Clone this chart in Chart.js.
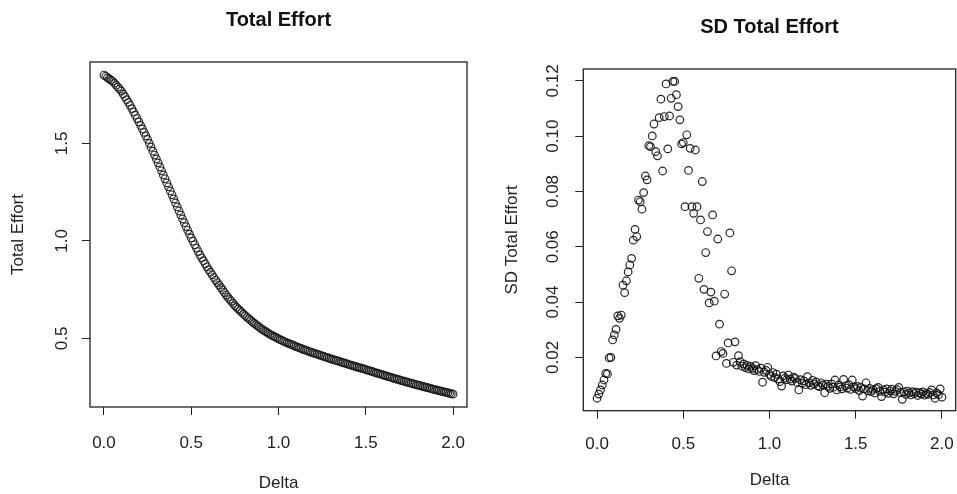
<!DOCTYPE html>
<html>
<head>
<meta charset="utf-8">
<script src="https://cdn.jsdelivr.net/npm/chart.js@4.4.1/dist/chart.umd.min.js"></script>
<style>
  body { margin: 0; background: #fff; }
  #wrap { position: relative; width: 957px; height: 494px; }
  canvas { position: absolute; top: 0; }
  #leftChart { left: 0; }
  #rightChart { left: 480px; }
</style>
</head>
<body>
<div id="wrap">
  <canvas id="leftChart" width="480" height="494"></canvas>
  <canvas id="rightChart" width="477" height="494"></canvas>
</div>
<script>
// Delta grid (x values shared by both panels)
const delta = [
  0.00,0.01,0.02,0.03,0.04,0.05,0.06,0.07,0.08,0.09,0.10,0.11,0.12,0.13,0.14,0.15,0.16,0.17,0.18,0.19,
  0.20,0.21,0.22,0.23,0.24,0.25,0.26,0.27,0.28,0.29,0.30,0.31,0.32,0.33,0.34,0.35,0.36,0.37,0.38,0.39,
  0.40,0.41,0.42,0.43,0.44,0.45,0.46,0.47,0.48,0.49,0.50,0.51,0.52,0.53,0.54,0.55,0.56,0.57,0.58,0.59,
  0.60,0.61,0.62,0.63,0.64,0.65,0.66,0.67,0.68,0.69,0.70,0.71,0.72,0.73,0.74,0.75,0.76,0.77,0.78,0.79,
  0.80,0.81,0.82,0.83,0.84,0.85,0.86,0.87,0.88,0.89,0.90,0.91,0.92,0.93,0.94,0.95,0.96,0.97,0.98,0.99,
  1.00,1.01,1.02,1.03,1.04,1.05,1.06,1.07,1.08,1.09,1.10,1.11,1.12,1.13,1.14,1.15,1.16,1.17,1.18,1.19,
  1.20,1.21,1.22,1.23,1.24,1.25,1.26,1.27,1.28,1.29,1.30,1.31,1.32,1.33,1.34,1.35,1.36,1.37,1.38,1.39,
  1.40,1.41,1.42,1.43,1.44,1.45,1.46,1.47,1.48,1.49,1.50,1.51,1.52,1.53,1.54,1.55,1.56,1.57,1.58,1.59,
  1.60,1.61,1.62,1.63,1.64,1.65,1.66,1.67,1.68,1.69,1.70,1.71,1.72,1.73,1.74,1.75,1.76,1.77,1.78,1.79,
  1.80,1.81,1.82,1.83,1.84,1.85,1.86,1.87,1.88,1.89,1.90,1.91,1.92,1.93,1.94,1.95,1.96,1.97,1.98,1.99,
  2.00
];

// Total Effort (left panel)
const totalEffort = [
  1.850,1.844,1.837,1.831,1.824,1.818,
  1.808,1.798,1.788,1.778,1.768,
  1.753,1.739,1.724,1.710,1.695,
  1.678,1.661,1.644,1.627,1.610,
  1.592,1.574,1.556,1.538,1.520,
  1.500,1.480,1.460,1.440,1.420,
  1.400,1.379,1.359,1.338,1.318,
  1.297,1.277,1.256,1.236,1.215,
  1.194,1.174,1.153,1.133,1.112,
  1.093,1.073,1.054,1.034,1.015,
  0.998,0.980,0.963,0.945,0.928,
  0.913,0.898,0.882,0.867,0.852,
  0.839,0.826,0.812,0.799,0.786,
  0.773,0.760,0.748,0.735,0.722,
  0.711,0.700,0.690,0.679,0.668,
  0.659,0.650,0.642,0.633,0.624,
  0.616,0.608,0.601,0.593,0.585,
  0.578,0.571,0.564,0.557,0.550,
  0.544,0.538,0.533,0.527,0.521,
  0.516,0.511,0.507,0.502,0.497,
  0.493,0.489,0.485,0.481,0.477,
  0.473,0.469,0.466,0.462,0.458,
  0.455,0.451,0.448,0.444,0.441,
  0.438,0.435,0.431,0.428,0.425,
  0.422,0.419,0.416,0.413,0.410,
  0.407,0.404,0.401,0.398,0.395,
  0.392,0.389,0.387,0.384,0.381,
  0.378,0.375,0.373,0.370,0.367,
  0.364,0.361,0.359,0.356,0.353,
  0.350,0.348,0.345,0.343,0.340,
  0.337,0.334,0.332,0.329,0.326,
  0.323,0.320,0.318,0.315,0.312,
  0.309,0.306,0.304,0.301,0.298,
  0.295,0.293,0.290,0.288,0.285,
  0.282,0.280,0.277,0.275,0.272,
  0.270,0.267,0.265,0.262,0.260,
  0.258,0.255,0.253,0.250,0.248,
  0.246,0.243,0.241,0.238,0.236,
  0.234,0.232,0.229,0.227,0.225,
  0.223,0.221,0.218,0.216,0.214
];

// SD Total Effort (right panel)
const sdTotalEffort = [
  0.0052,0.0067,0.0082,0.0100,0.0118,0.0142,0.0140,0.0198,0.0200,0.0263,
  0.0281,0.0301,0.0350,0.0341,0.0353,0.0461,0.0434,0.0477,0.0509,0.0534,
  0.0558,0.0624,0.0663,0.0637,0.0769,0.0763,0.0736,0.0796,0.0856,0.0842,
  0.0966,0.0962,0.1001,0.1044,0.0944,0.0929,0.1067,0.1134,0.0874,0.1071,
  0.1189,0.0954,0.1073,0.1137,0.1198,0.1198,0.1150,0.1107,0.1059,0.0972,
  0.0977,0.0745,0.1005,0.0876,0.0956,0.0745,0.0721,0.0950,0.0745,0.0486,
  0.0697,0.0836,0.0446,0.0579,0.0655,0.0397,0.0436,0.0715,0.0403,0.0205,
  0.0628,0.0320,0.0221,0.0214,0.0429,0.0178,0.0252,0.0650,0.0513,0.0182,
  0.0256,0.0172,0.0206,0.0184,0.0168,0.0176,0.0163,0.0171,0.0158,0.0167,
  0.0160,0.0152,0.0170,0.0156,0.0149,0.0161,0.0110,0.0146,0.0153,0.0164,
  0.0138,0.0131,0.0145,0.0127,0.0139,0.0122,0.0112,0.0096,0.0133,0.0125,
  0.0119,0.0136,0.0121,0.0114,0.0128,0.0124,0.0110,0.0082,0.0119,0.0106,
  0.0115,0.0101,0.0130,0.0108,0.0099,0.0117,0.0104,0.0111,0.0097,0.0094,
  0.0108,0.0100,0.0072,0.0103,0.0095,0.0088,0.0104,0.0092,0.0118,0.0082,
  0.0100,0.0093,0.0086,0.0120,0.0097,0.0089,0.0101,0.0084,0.0118,0.0093,
  0.0087,0.0095,0.0080,0.0091,0.0060,0.0086,0.0108,0.0079,0.0088,0.0076,
  0.0084,0.0071,0.0087,0.0091,0.0077,0.0058,0.0082,0.0074,0.0086,0.0070,
  0.0079,0.0085,0.0068,0.0077,0.0083,0.0091,0.0072,0.0048,0.0075,0.0066,
  0.0078,0.0071,0.0064,0.0076,0.0069,0.0074,0.0062,0.0072,0.0067,0.0075,
  0.0063,0.0070,0.0066,0.0073,0.0082,0.0064,0.0052,0.0071,0.0065,0.0086,
  0.0056
];

const xTicks = [0, 0.5, 1, 1.5, 2];
const yTicksLeft = [0.5, 1.0, 1.5];
const yTicksRight = [0.02, 0.04, 0.06, 0.08, 0.10, 0.12];

const FONT = "'Liberation Sans', Arial, sans-serif";
Chart.defaults.font.family = FONT;
Chart.defaults.color = '#222';

// frame around the plot region + bold main title
const boxPlugin = {
  id: 'box',
  afterDraw(chart, args, opts) {
    const { ctx, chartArea: a } = chart;
    ctx.save();
    ctx.strokeStyle = '#222';
    ctx.lineWidth = 1.3;
    ctx.strokeRect(a.left, a.top, a.right - a.left, a.bottom - a.top);
    ctx.font = 'bold 20px ' + FONT;
    ctx.fillStyle = '#111';
    ctx.textAlign = 'center';
    ctx.textBaseline = 'middle';
    ctx.fillText(opts.text, (a.left + a.right) / 2, opts.y);
    ctx.restore();
  }
};

function makeChart(id, ys, cfg) {
  const pts = delta.map((d, i) => ({ x: d, y: ys[i] }));
  return new Chart(document.getElementById(id), {
    type: 'scatter',
    data: {
      datasets: [{
        data: pts,
        pointStyle: 'circle',
        pointRadius: 3.8,
        pointBorderWidth: 1.2,
        borderColor: cfg.color,
        backgroundColor: 'rgba(0,0,0,0)'
      }]
    },
    options: {
      responsive: false,
      animation: false,
      devicePixelRatio: 1,
      layout: { padding: cfg.padding, autoPadding: false },
      plugins: {
        legend: { display: false },
        tooltip: { enabled: false },
        box: { text: cfg.title, y: cfg.titleY }
      },
      scales: {
        x: {
          type: 'linear',
          min: -0.08,
          max: 2.08,
          afterBuildTicks: s => { s.ticks = xTicks.map(v => ({ value: v })); },
          afterFit: s => {
            s.height = cfg.xHeight;
            s.paddingLeft = 0; s.paddingRight = 0;
          },
          ticks: {
            font: { size: 17 },
            padding: cfg.xTickPad,
            autoSkip: false,
            maxRotation: 0,
            callback: v => Number(v).toFixed(1)
          },
          grid: { drawOnChartArea: false, tickLength: 8, color: '#222', lineWidth: 1 },
          border: { display: false },
          title: {
            display: true, text: 'Delta',
            font: { size: 17, lineHeight: 1 },
            padding: { top: 0, bottom: cfg.xTitlePad }
          }
        },
        y: {
          type: 'linear',
          min: cfg.yMin,
          max: cfg.yMax,
          afterBuildTicks: s => { s.ticks = cfg.yTicks.map(v => ({ value: v })); },
          afterFit: s => {
            s.width = cfg.yWidth;
            s.paddingTop = 0; s.paddingBottom = 0;
          },
          ticks: {
            font: { size: 17 },
            padding: cfg.yTickPad,
            minRotation: 90,
            maxRotation: 90,
            crossAlign: 'center',
            autoSkip: false,
            callback: v => Number(v).toFixed(cfg.digits)
          },
          grid: { drawOnChartArea: false, tickLength: 8, color: '#222', lineWidth: 1 },
          border: { display: false },
          title: {
            display: true, text: cfg.yLabel,
            font: { size: 17 },
            padding: { top: cfg.yTitlePad, bottom: 0 }
          }
        }
      }
    },
    plugins: [boxPlugin]
  });
}

makeChart('leftChart', totalEffort, {
  title: 'Total Effort', titleY: 20, color: 'rgba(25,25,25,0.9)',
  padding: { top: 62, left: 0, right: 13, bottom: 0 },
  xHeight: 87, yWidth: 90, xTickPad: 18, xTitlePad: 2.5,
  yMin: 0.148, yMax: 1.917, yTicks: yTicksLeft, digits: 1,
  yTickPad: 7.6, yTitlePad: 8, yLabel: 'Total Effort'
});

makeChart('rightChart', sdTotalEffort, {
  title: 'SD Total Effort', titleY: 27, color: 'rgba(15,15,15,0.9)',
  padding: { top: 69, left: 14, right: 1.3, bottom: 0 },
  xHeight: 83.3, yWidth: 89.3, xTickPad: 15, xTitlePad: 5.5,
  yMin: 0.0007, yMax: 0.1243, yTicks: yTicksRight, digits: 2,
  yTickPad: 5.8, yTitlePad: 8, yLabel: 'SD Total Effort'
});
</script>
</body>
</html>
